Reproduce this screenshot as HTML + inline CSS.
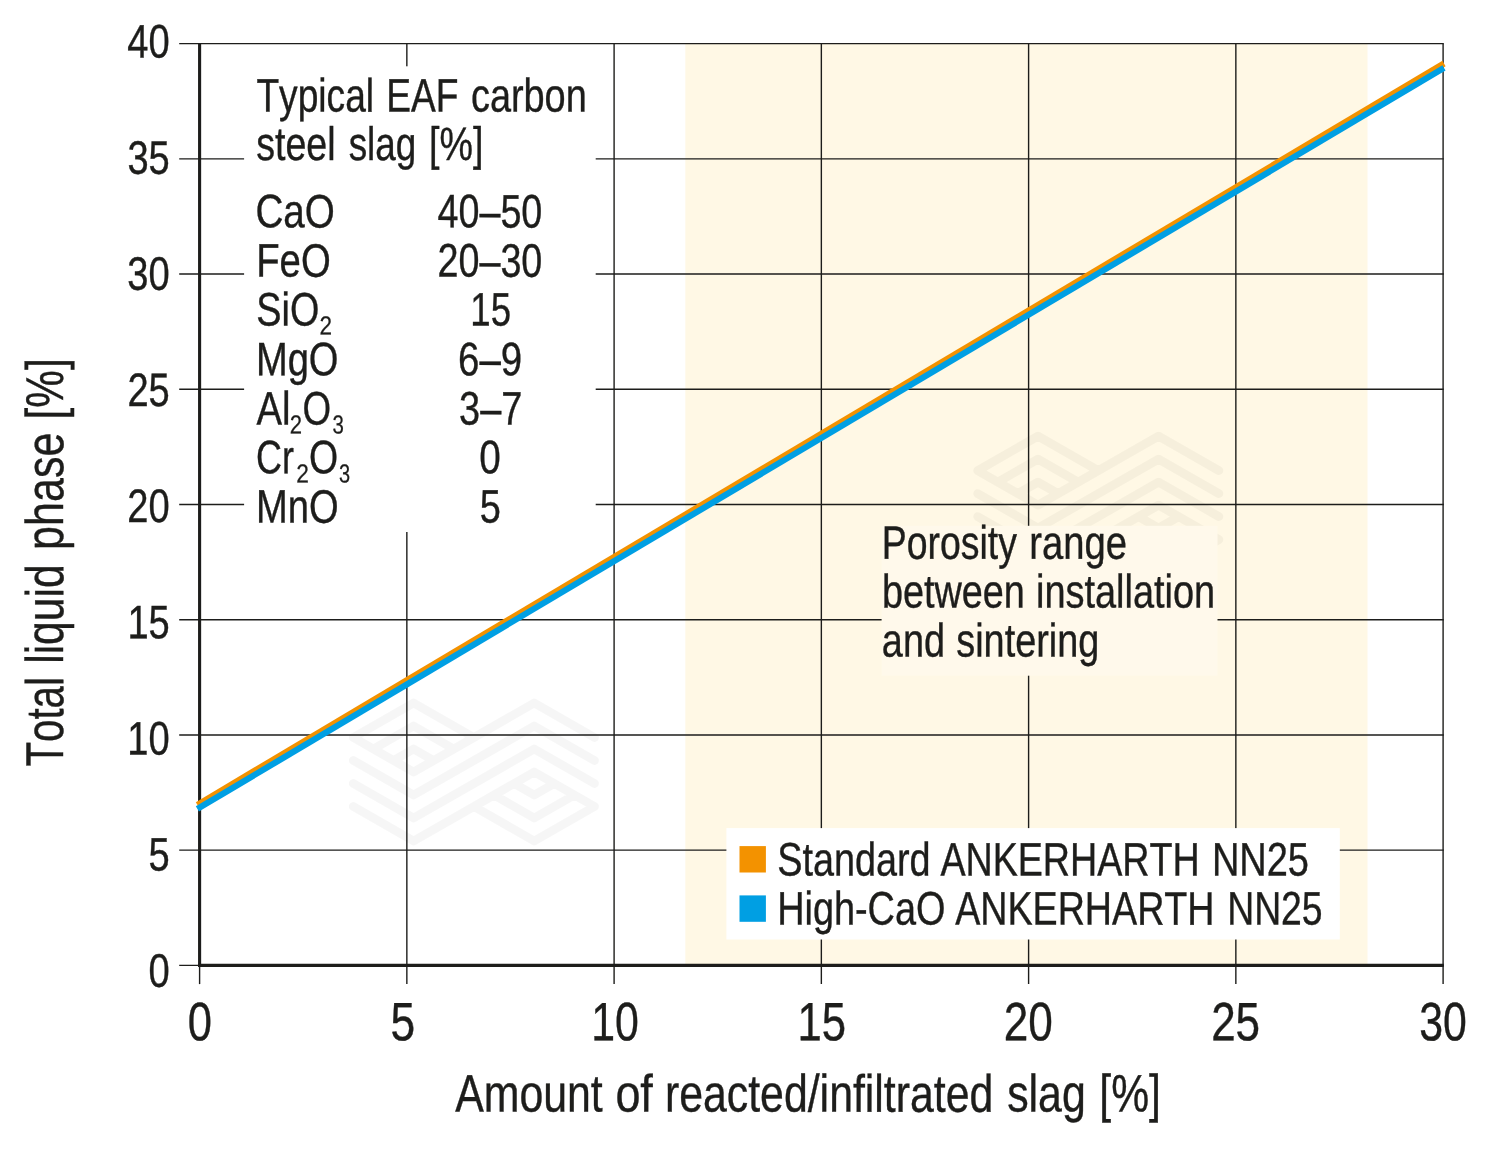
<!DOCTYPE html>
<html><head><meta charset="utf-8"><title>Total liquid phase vs. reacted/infiltrated slag</title>
<style>
html,body{margin:0;padding:0;background:#fff;}
body{width:1500px;height:1150px;overflow:hidden;}
svg{display:block;will-change:transform;}
text{font-family:"Liberation Sans",sans-serif;fill:#1d1d1b;stroke:#1d1d1b;stroke-width:0.4px;text-rendering:geometricPrecision;font-kerning:none;font-variant-ligatures:none;white-space:pre;}
</style></head><body>
<svg width="1500" height="1150" viewBox="0 0 1500 1150">
<rect x="0" y="0" width="1500" height="1150" fill="#fff"/>
<rect x="685.3" y="43.6" width="682.2" height="921.8" fill="#fff8e5"/>
<path d="M353.3 737.5 L413.6 772.0 L534.2 703.0 L594.5 737.5 M353.3 760.5 L413.6 795.0 L534.2 726.0 L594.5 760.5 M353.3 783.5 L413.6 818.0 L534.2 749.0 L594.5 783.5 M353.3 806.5 L413.6 841.0 L534.2 772.0 L594.5 806.5 M393.5 760.5 L413.6 749.0 L433.7 760.5 M373.4 749.0 L413.6 726.0 L453.8 749.0 M353.3 737.5 L413.6 703.0 L473.9 737.5 M514.1 783.5 L534.2 795.0 L554.3 783.5 M494.0 795.0 L534.2 818.0 L574.4 795.0 M473.9 806.5 L534.2 841.0 L594.5 806.5 M977.7 470.6 L1038.0 505.1 L1158.6 436.1 L1218.9 470.6 M977.7 493.6 L1038.0 528.1 L1158.6 459.1 L1218.9 493.6 M977.7 516.6 L1038.0 551.1 L1158.6 482.1 L1218.9 516.6 M977.7 539.6 L1038.0 574.1 L1158.6 505.1 L1218.9 539.6 M1017.9 493.6 L1038.0 482.1 L1058.1 493.6 M997.8 482.1 L1038.0 459.1 L1078.2 482.1 M977.7 470.6 L1038.0 436.1 L1098.3 470.6 M1138.5 516.6 L1158.6 528.1 L1178.7 516.6 M1118.4 528.1 L1158.6 551.1 L1198.8 528.1 M1098.3 539.6 L1158.6 574.1 L1218.9 539.6 " fill="none" stroke="#000" stroke-opacity="0.037" stroke-width="8.8" stroke-linecap="round" stroke-linejoin="round"/>
<line x1="406.85" y1="43.6" x2="406.85" y2="984.10" stroke="#1d1d1b" stroke-width="1.4"/>
<line x1="614.10" y1="43.6" x2="614.10" y2="984.10" stroke="#1d1d1b" stroke-width="1.4"/>
<line x1="821.35" y1="43.6" x2="821.35" y2="984.10" stroke="#1d1d1b" stroke-width="1.4"/>
<line x1="1028.60" y1="43.6" x2="1028.60" y2="984.10" stroke="#1d1d1b" stroke-width="1.4"/>
<line x1="1235.85" y1="43.6" x2="1235.85" y2="984.10" stroke="#1d1d1b" stroke-width="1.4"/>
<line x1="1443.10" y1="43.6" x2="1443.10" y2="984.10" stroke="#1d1d1b" stroke-width="1.4"/>
<line x1="179.2" y1="965.40" x2="1443.75" y2="965.40" stroke="#1d1d1b" stroke-width="1.4"/>
<line x1="179.2" y1="850.17" x2="1443.75" y2="850.17" stroke="#1d1d1b" stroke-width="1.4"/>
<line x1="179.2" y1="734.95" x2="1443.75" y2="734.95" stroke="#1d1d1b" stroke-width="1.4"/>
<line x1="179.2" y1="619.73" x2="1443.75" y2="619.73" stroke="#1d1d1b" stroke-width="1.4"/>
<line x1="179.2" y1="504.50" x2="1443.75" y2="504.50" stroke="#1d1d1b" stroke-width="1.4"/>
<line x1="179.2" y1="389.27" x2="1443.75" y2="389.27" stroke="#1d1d1b" stroke-width="1.4"/>
<line x1="179.2" y1="274.05" x2="1443.75" y2="274.05" stroke="#1d1d1b" stroke-width="1.4"/>
<line x1="179.2" y1="158.83" x2="1443.75" y2="158.83" stroke="#1d1d1b" stroke-width="1.4"/>
<line x1="179.2" y1="43.60" x2="1443.75" y2="43.60" stroke="#1d1d1b" stroke-width="1.4"/>
<line x1="199.6" y1="965.4" x2="199.6" y2="984.10" stroke="#1d1d1b" stroke-width="1.4"/>
<rect x="244.1" y="66.3" width="351.6" height="465.7" fill="#fff"/>
<rect x="881.6" y="525.8" width="335.9" height="149.9" fill="#fff9eb"/>
<rect x="726.4" y="828.1" width="613.4" height="111.4" fill="#fff"/>
<line x1="199.6" y1="42.95" x2="199.6" y2="967.0" stroke="#1d1d1b" stroke-width="3.1"/>
<line x1="198.04999999999998" y1="965.4" x2="1443.75" y2="965.4" stroke="#1d1d1b" stroke-width="3.1"/>
<line x1="197.4" y1="804.81" x2="1444.0" y2="63.51" stroke="#f39200" stroke-width="6.2"/>
<line x1="197.4" y1="808.91" x2="1444.0" y2="67.81" stroke="#009fe3" stroke-width="6.2"/>
<rect x="739.5" y="846.1" width="26.4" height="26.4" fill="#f39200"/>
<rect x="739.5" y="895.4" width="26.4" height="26.4" fill="#009fe3"/>
<g>
<text transform="translate(148.46,986.70) rotate(0.04) scale(0.8115,1)" font-size="46.9">0</text>
<text transform="translate(148.57,870.55) rotate(0.04) scale(0.8115,1)" font-size="46.9">5</text>
<text transform="translate(127.29,754.40) rotate(0.04) scale(0.8115,1)" font-size="46.9">10</text>
<text transform="translate(127.40,638.25) rotate(0.04) scale(0.8115,1)" font-size="46.9">15</text>
<text transform="translate(127.29,522.10) rotate(0.04) scale(0.8115,1)" font-size="46.9">20</text>
<text transform="translate(127.40,405.95) rotate(0.04) scale(0.8115,1)" font-size="46.9">25</text>
<text transform="translate(127.29,289.80) rotate(0.04) scale(0.8115,1)" font-size="46.9">30</text>
<text transform="translate(127.40,173.65) rotate(0.04) scale(0.8115,1)" font-size="46.9">35</text>
<text transform="translate(127.29,57.50) rotate(0.04) scale(0.8115,1)" font-size="46.9">40</text>
<text transform="translate(187.76,1040.30) rotate(0.04) scale(0.8049,1)" font-size="54.0">0</text>
<text transform="translate(390.59,1040.30) rotate(0.04) scale(0.8192,1)" font-size="54.0">5</text>
<text transform="translate(591.20,1040.30) rotate(0.04) scale(0.7927,1)" font-size="54.0">10</text>
<text transform="translate(797.44,1040.30) rotate(0.04) scale(0.8080,1)" font-size="54.0">15</text>
<text transform="translate(1003.74,1040.30) rotate(0.04) scale(0.8178,1)" font-size="54.0">20</text>
<text transform="translate(1211.15,1040.30) rotate(0.04) scale(0.8147,1)" font-size="54.0">25</text>
<text transform="translate(1419.23,1040.30) rotate(0.04) scale(0.7922,1)" font-size="54.0">30</text>
<text transform="translate(455.18,1111.50) rotate(0.04) scale(0.8125,1)" font-size="52.7">Amount</text>
<text transform="translate(615.38,1111.50) rotate(0.04) scale(0.8528,1)" font-size="52.7">of</text>
<text transform="translate(664.92,1111.50) rotate(0.04) scale(0.8126,1)" font-size="52.7">reacted/infiltrated</text>
<text transform="translate(1007.17,1111.50) rotate(0.04) scale(0.8133,1)" font-size="52.7">slag</text>
<text transform="translate(1099.32,1111.50) rotate(0.04) scale(0.8084,1)" font-size="52.7">[%]</text>
<text transform="translate(63.10,765.80) rotate(-89.96) translate(-0.65,0) scale(0.7549,1)" font-size="53.2">Total</text>
<text transform="translate(63.10,661.20) rotate(-89.96) translate(-2.61,0) scale(0.8001,1)" font-size="53.2">liquid</text>
<text transform="translate(63.10,547.40) rotate(-89.96) translate(-2.51,0) scale(0.8090,1)" font-size="53.2">phase</text>
<text transform="translate(63.10,416.70) rotate(-89.96) translate(-2.76,0) scale(0.7951,1)" font-size="53.2">[%]</text>
<text transform="translate(256.42,111.55) rotate(0.04) scale(0.7900,1)" font-size="47.0">Typical</text>
<text transform="translate(386.31,111.55) rotate(0.04) scale(0.7901,1)" font-size="47.0">EAF</text>
<text transform="translate(470.95,111.55) rotate(0.04) scale(0.8054,1)" font-size="47.0">carbon</text>
<text transform="translate(256.21,159.90) rotate(0.04) scale(0.7992,1)" font-size="47.0">steel</text>
<text transform="translate(348.63,159.90) rotate(0.04) scale(0.7839,1)" font-size="47.0">slag</text>
<text transform="translate(429.08,159.90) rotate(0.04) scale(0.8003,1)" font-size="47.0">[%]</text>
<text transform="translate(255.40,227.35) rotate(0.04) scale(0.8214,1)" font-size="47.0">CaO</text>
<text transform="translate(256.22,276.60) rotate(0.04) scale(0.8144,1)" font-size="47.0">FeO</text>
<text transform="translate(256.35,325.40) rotate(0.04) scale(0.8028,1)" font-size="47.0">SiO</text>
<text transform="translate(255.94,375.30) rotate(0.04) scale(0.8102,1)" font-size="47.0">MgO</text>
<text transform="translate(256.39,424.50) rotate(0.04) scale(0.8138,1)" font-size="47.0">Al</text>
<text transform="translate(302.52,424.50) rotate(0.04) scale(0.7819,1)" font-size="47.0">O</text>
<text transform="translate(256.03,473.20) rotate(0.04) scale(0.7624,1)" font-size="47.0">Cr</text>
<text transform="translate(308.88,473.20) rotate(0.04) scale(0.7973,1)" font-size="47.0">O</text>
<text transform="translate(256.04,522.60) rotate(0.04) scale(0.8102,1)" font-size="47.0">MnO</text>
<text transform="translate(319.44,334.60) rotate(0.04) scale(0.8593,1)" font-size="26.2" style="stroke-width:0.25px">2</text>
<text transform="translate(289.76,433.50) rotate(0.04) scale(0.8431,1)" font-size="26.2" style="stroke-width:0.25px">2</text>
<text transform="translate(332.48,433.50) rotate(0.04) scale(0.7799,1)" font-size="26.2" style="stroke-width:0.25px">3</text>
<text transform="translate(296.13,482.50) rotate(0.04) scale(0.8674,1)" font-size="26.2" style="stroke-width:0.25px">2</text>
<text transform="translate(338.89,482.50) rotate(0.04) scale(0.7643,1)" font-size="26.2" style="stroke-width:0.25px">3</text>
<text transform="translate(437.50,227.35) rotate(0.04) scale(0.8020,1)" font-size="47.0">40–50</text>
<text transform="translate(437.57,276.60) rotate(0.04) scale(0.8014,1)" font-size="47.0">20–30</text>
<text transform="translate(470.37,325.40) rotate(0.04) scale(0.7788,1)" font-size="47.0">15</text>
<text transform="translate(458.06,375.30) rotate(0.04) scale(0.8173,1)" font-size="47.0">6–9</text>
<text transform="translate(459.07,424.50) rotate(0.04) scale(0.8056,1)" font-size="47.0">3–7</text>
<text transform="translate(479.16,473.20) rotate(0.04) scale(0.8221,1)" font-size="47.0">0</text>
<text transform="translate(479.64,522.60) rotate(0.04) scale(0.8067,1)" font-size="47.0">5</text>
<text transform="translate(881.79,558.80) rotate(0.04) scale(0.7953,1)" font-size="47.0">Porosity</text>
<text transform="translate(1029.33,558.80) rotate(0.04) scale(0.8128,1)" font-size="47.0">range</text>
<text transform="translate(881.93,607.50) rotate(0.04) scale(0.8040,1)" font-size="47.0">between</text>
<text transform="translate(1036.03,607.50) rotate(0.04) scale(0.8063,1)" font-size="47.0">installation</text>
<text transform="translate(881.85,656.40) rotate(0.04) scale(0.8050,1)" font-size="47.0">and</text>
<text transform="translate(956.31,656.40) rotate(0.04) scale(0.8042,1)" font-size="47.0">sintering</text>
<text transform="translate(777.25,875.45) rotate(0.04) scale(0.8033,1)" font-size="47.0">Standard</text>
<text transform="translate(940.39,875.45) rotate(0.04) scale(0.8005,1)" font-size="47.0">ANKERHARTH</text>
<text transform="translate(1211.95,875.45) rotate(0.04) scale(0.8075,1)" font-size="47.0">NN25</text>
<text transform="translate(777.16,924.50) rotate(0.04) scale(0.8054,1)" font-size="47.0">High-CaO</text>
<text transform="translate(955.19,924.50) rotate(0.04) scale(0.8008,1)" font-size="47.0">ANKERHARTH</text>
<text transform="translate(1227.20,924.50) rotate(0.04) scale(0.7940,1)" font-size="47.0">NN25</text>
</g>
</svg>
</body></html>
